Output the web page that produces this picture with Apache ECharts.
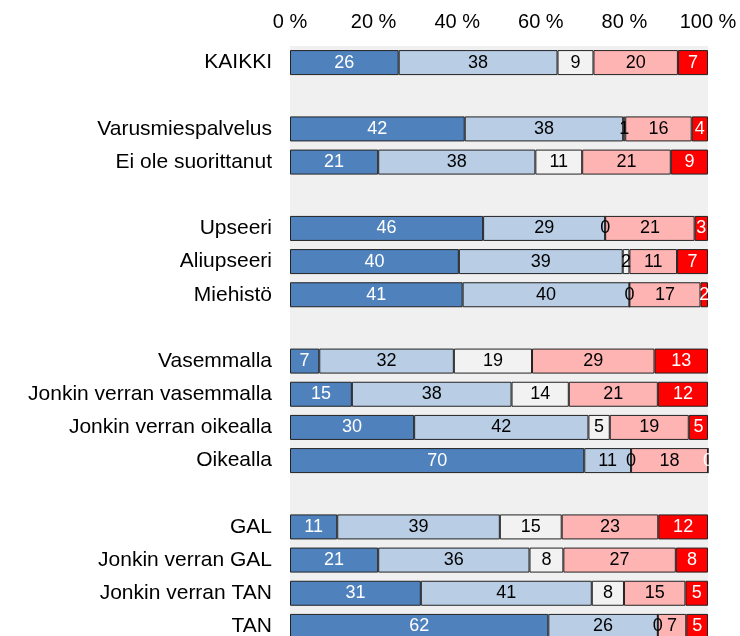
<!DOCTYPE html>
<html>
<head>
<meta charset="utf-8">
<script src="https://cdn.jsdelivr.net/npm/echarts@6/dist/echarts.min.js"></script>
<style>
  html, body { margin: 0; padding: 0; background: #fff; }
  #main { width: 740px; height: 636px; }
</style>
</head>
<body>
<div id="main"></div>
<script>
// rivit ylhäältä alas, tyhjät rivit ovat ryhmien välejä
var categories = ['KAIKKI', ' ', 'Varusmiespalvelus', 'Ei ole suorittanut', '  ',
  'Upseeri', 'Aliupseeri', 'Miehistö', '   ',
  'Vasemmalla', 'Jonkin verran vasemmalla', 'Jonkin verran oikealla', 'Oikealla', '    ',
  'GAL', 'Jonkin verran GAL', 'Jonkin verran TAN', 'TAN']

var s1 = [26.0, '-', 41.8, 21.1, '-', 46.2, 40.4, 41.3, '-', 7.0, 14.8, 29.7, 70.4, '-', 11.3, 21.1, 31.3, 61.8]
var s2 = [38.0, '-', 37.9, 37.6, '-', 29.2, 39.2, 39.9, '-', 32.2, 38.2, 41.7, 11.2, '-', 38.9, 36.2, 40.9, 26.2]
var s3 = [8.6, '-', 0.5, 11.2, '-', 0, 1.6, 0, '-', 18.7, 13.7, 5.1, 0, '-', 14.8, 8.1, 7.7, 0]
var s4 = [20.2, '-', 15.9, 21.2, '-', 21.4, 11.4, 17.0, '-', 29.3, 21.3, 18.9, 18.4, '-', 23.1, 26.9, 14.7, 6.8]
var s5 = [7.2, '-', 3.9, 8.9, '-', 3.2, 7.4, 1.8, '-', 12.8, 12.0, 4.6, 0, '-', 11.9, 7.7, 5.4, 5.2]

var xTicks = [0, 20, 40, 60, 80, 100]

var seriesData = [s1, s2, s3, s4, s5]
var colors = ['#4F81BD', '#B9CDE5', '#F2F2F2', '#FFB4B4', '#FF0000']
var labelColors = ['#fff', '#000', '#000', '#000', '#fff']

var chart = echarts.init(document.getElementById('main'))

var series = seriesData.map(function (d, i) {
  return {
    type: 'bar',
    stack: 'total',
    barWidth: 25,
    data: d,
    itemStyle: {
      color: colors[i],
      borderColor: '#222',
      borderWidth: 1
    },
    label: {
      show: true,
      position: 'inside',
      color: labelColors[i],
      fontSize: 18,
      fontFamily: 'Liberation Sans, Arial, sans-serif',
      formatter: function (p) {
        return Math.round(p.value)
      }
    },
    emphasis: { disabled: true }
  }
})

var option = {
  animation: false,
  grid: {
    left: 290,
    right: 32,
    top: 46,
    height: 597,
    outerBoundsMode: 'none',
    show: true,
    backgroundColor: '#F0F0F0',
    borderWidth: 0
  },
  xAxis: {
    type: 'value',
    position: 'top',
    min: xTicks[0],
    max: xTicks[xTicks.length - 1],
    interval: 20,
    axisLine: { show: false },
    axisTick: { show: false },
    splitLine: { show: false },
    axisLabel: {
      margin: 14,
      color: '#000',
      fontSize: 20,
      fontFamily: 'Liberation Sans, Arial, sans-serif',
      formatter: '{value} %'
    }
  },
  yAxis: {
    type: 'category',
    inverse: true,
    data: categories,
    axisLine: { show: false },
    axisTick: { show: false },
    axisLabel: {
      margin: 18,
      color: '#000',
      fontSize: 21,
      fontFamily: 'Liberation Sans, Arial, sans-serif'
    }
  },
  series: series
}

chart.setOption(option)
</script>
</body>
</html>
